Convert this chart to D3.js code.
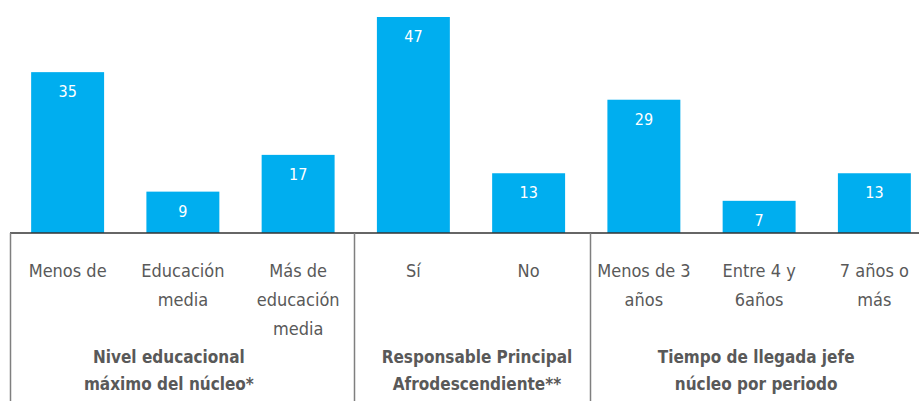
<!DOCTYPE html>
<html>
  <head>
    <meta charset="utf-8">
    <script src="https://cdn.jsdelivr.net/npm/d3@7/dist/d3.min.js"></script>
    <style>
      body { margin: 0; background: white; }
      svg { display: block; }
      text { font-family: "DejaVu Sans Condensed", "Roboto", sans-serif; font-stretch: condensed; }
      .cat { fill: #595959; font-size: 18px; }
      .grp { fill: #595959; font-size: 17px; font-weight: bold; }
      .val { fill: white; font-size: 16px; }
    </style>
  </head>
  <body>
    <svg id="chart" width="919" height="401"></svg>
    <script>
      var categories = [
        ["Menos de"],
        ["Educación", "media"],
        ["Más de", "educación", "media"],
        ["Sí"],
        ["No"],
        ["Menos de 3", "años"],
        ["Entre 4 y", "6años"],
        ["7 años o", "más"]
      ];
      var values = [35, 9, 17, 47, 13, 29, 7, 13];
      var groupNames = [
        ["Nivel educacional", "máximo del núcleo*"],
        ["Responsable Principal", "Afrodescendiente**"],
        ["Tiempo de llegada jefe", "núcleo por periodo"]
      ];
      var groupOf = [0, 0, 0, 1, 1, 2, 2, 2];

      var svg = d3.select("#chart");
      var baseY = 233;

      var x = d3.scaleBand()
        .domain(d3.range(values.length))
        .range([10, 932])
        .paddingInner(0.367)
        .paddingOuter(0.1835);
      var y = d3.scaleLinear().domain([0, 47]).range([baseY, 17]);

      // bars
      svg.selectAll("rect.bar")
        .data(values)
        .enter()
        .append("rect")
        .attr("class", "bar")
        .attr("x", (d, i) => x(i))
        .attr("y", d => y(d))
        .attr("width", x.bandwidth())
        .attr("height", d => baseY - y(d))
        .style("fill", "#00aeef");

      svg.selectAll("text.val")
        .data(values)
        .enter()
        .append("text")
        .attr("class", "val")
        .attr("x", (d, i) => x(i) + x.bandwidth() / 2)
        .attr("y", d => y(d) + 25)
        .attr("text-anchor", "middle")
        .text(d => d);

      // baseline and group separators
      svg.append("line")
        .attr("x1", 10).attr("x2", 919)
        .attr("y1", baseY).attr("y2", baseY)
        .style("stroke", "#333").style("stroke-width", 1.5);

      var sepShift = [0, -2, 4];
      var seps = [0, 3, 5].map((i, k) => i === 0 ? 10 : (x(i - 1) + x.bandwidth() + x(i)) / 2 + sepShift[k]);
      svg.selectAll("line.sep")
        .data(seps)
        .enter()
        .append("line")
        .attr("class", "sep")
        .attr("x1", d => Math.round(d) + 0.5).attr("x2", d => Math.round(d) + 0.5)
        .attr("y1", baseY).attr("y2", 401)
        .style("stroke", "#7f7f7f").style("stroke-width", 1.5);

      // category labels
      var cat = svg.selectAll("text.cat")
        .data(categories)
        .enter()
        .append("text")
        .attr("class", "cat")
        .attr("text-anchor", "middle")
        .attr("transform", (d, i) => "translate(" + (x(i) + x.bandwidth() / 2) + ",277)");
      cat.selectAll("tspan")
        .data(d => d)
        .enter()
        .append("tspan")
        .attr("x", 0)
        .attr("y", (d, j) => j * 29)
        .text(d => d);

      // group labels
      var grpShift = [-14, 6, -3];
      var grp = svg.selectAll("text.grp")
        .data(groupNames)
        .enter()
        .append("text")
        .attr("class", "grp")
        .attr("text-anchor", "middle")
        .attr("transform", (d, g) => {
          var idx = d3.range(values.length).filter(i => groupOf[i] === g);
          var cx = (x(idx[0]) + x(idx[idx.length - 1]) + x.bandwidth()) / 2;
          return "translate(" + (cx + grpShift[g]) + ",363)";
        });
      grp.selectAll("tspan")
        .data(d => d)
        .enter()
        .append("tspan")
        .attr("x", 0)
        .attr("y", (d, j) => j * 27)
        .text(d => d);
    </script>
  </body>
</html>
